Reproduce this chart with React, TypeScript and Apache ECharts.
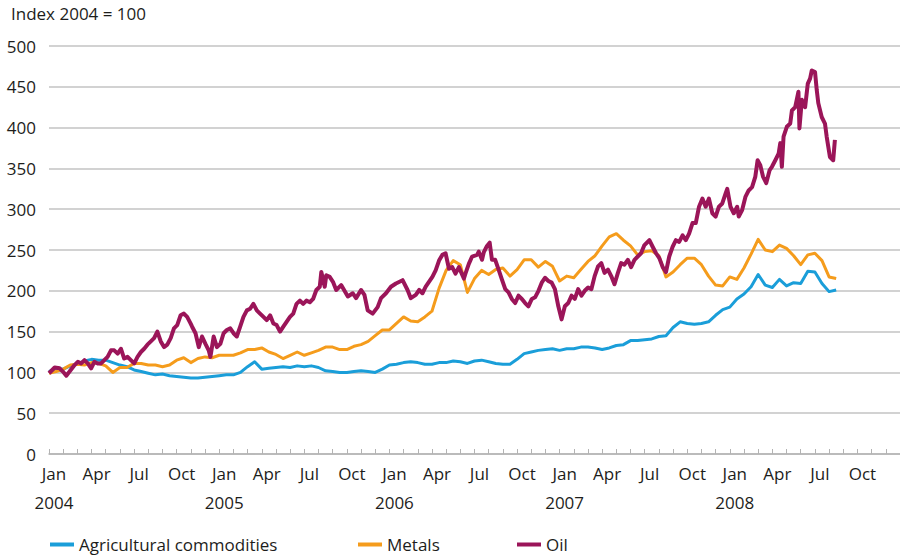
import React, { useEffect, useRef } from "react";
import * as echarts from "echarts";

const TITLE = "Index 2004 = 100";
const YEARS = ["2004", "2005", "2006", "2007", "2008"];
const MONTHS = ["Jan", "Feb", "Mar", "Apr", "May", "Jun", "Jul", "Aug", "Sep", "Oct", "Nov", "Dec"];
const Y_MIN = 0;
const Y_MAX = 500;
const Y_STEP = 50;
const X_MONTHS_SPAN = 60; // Jan 2004 .. end of 2008, in months

const SERIES_NAMES = ["Agricultural commodities", "Metals", "Oil"];

// Half-monthly readings starting 1 Jan 2004 (index 2004 = 100)
const agricultural = [
  101, 105, 104, 108, 110, 114, 116, 115, 115, 112, 109, 107, 103, 101, 99, 97, 98, 96, 95, 94,
  93, 93, 94, 95, 96, 97, 97, 100, 107, 113, 104, 105, 106, 107, 106, 108, 107, 108, 106, 102,
  101, 100, 100, 101, 102, 101, 100, 104, 109, 110, 112, 113, 112, 110, 110, 112, 112, 114, 113, 111,
  114, 115, 113, 111, 110, 110, 116, 123, 125, 127, 128, 129, 127, 129, 129, 131, 131, 130, 128, 130,
  133, 134, 139, 139, 140, 141, 144, 145, 155, 162, 160, 159, 160, 162, 170, 177, 180, 190, 196, 205,
  220, 207, 204, 214, 206, 210, 209, 224, 223, 209, 199, 201,
];

const metals = [
  99, 101, 104, 109, 110, 109, 112, 111, 108, 100, 106, 106, 111, 111, 109, 109, 107, 109, 115, 118,
  112, 117, 119, 118, 121, 121, 121, 124, 128, 128, 130, 125, 122, 117, 121, 125, 121, 124, 127, 131,
  131, 128, 128, 132, 134, 138, 145, 152, 152, 160, 168, 163, 162, 168, 175, 203, 225, 237, 232, 198,
  215, 225, 220, 226, 228, 218, 226, 238, 238, 229, 236, 230, 212, 218, 216, 226, 236, 243, 255, 266,
  270, 262, 255, 244, 248, 249, 243, 217, 223, 232, 240, 240, 232, 218, 207, 206, 217, 214, 228, 245,
  263, 250, 248, 256, 252, 243, 232, 244, 246, 237, 217, 215,
];

// Oil is read at a finer, irregular spacing (months since 1 Jan 2004)
const oilMonths = [
  0.0, 0.4, 0.75, 0.98, 1.22, 1.45, 1.8, 2.03, 2.27, 2.5, 2.73, 2.97, 3.2, 3.43, 3.67, 3.9, 4.13, 4.37, 4.6, 4.84,
  5.07, 5.3, 5.54, 5.77, 6.01, 6.24, 6.48, 6.71, 6.94, 7.18, 7.41, 7.64, 7.88, 8.11, 8.34, 8.58, 8.81, 9.04, 9.28, 9.51,
  9.74, 9.98,
  10.09, 10.33, 10.56, 10.79, 11.03, 11.26, 11.38, 11.61, 11.84, 12.08, 12.31, 12.54, 12.78, 13.01, 13.24, 13.48, 13.71, 13.95,
  14.18, 14.41, 14.65, 14.88, 15.12, 15.35, 15.59, 15.82, 16.05, 16.29, 16.52, 16.75, 16.99, 17.22, 17.45, 17.69, 17.92, 18.15,
  18.39, 18.62, 18.85, 19.09, 19.2, 19.44, 19.55, 19.79, 20.02, 20.25,
  20.6, 21.07, 21.42, 21.65, 22.0, 22.24, 22.47, 22.82, 23.17, 23.41, 23.76, 24.11, 24.46, 24.93, 25.28, 25.51, 25.86, 26.1,
  26.33, 26.56, 27.03, 27.26, 27.5, 27.73, 27.96, 28.2, 28.43, 28.66, 28.9, 29.25, 29.36, 29.6, 29.83, 30.18, 30.3, 30.53,
  30.65, 30.88, 31.07, 31.23, 31.46, 31.7, 31.93, 32.17, 32.4, 32.63, 32.87, 33.1, 33.34, 33.57, 33.8, 34.04, 34.27, 34.51,
  34.74, 34.97, 35.21, 35.44, 35.67, 35.91, 36.14, 36.37, 36.61, 36.84, 37.07, 37.31, 37.54, 37.77, 38.01, 38.24, 38.47, 38.71,
  38.94, 39.17, 39.41, 39.64, 39.87, 40.11, 40.34, 40.57,
  40.81, 41.04, 41.28, 41.51, 41.74, 41.98, 42.33, 42.56, 42.8, 43.03, 43.27, 43.5, 43.73, 43.97, 44.2, 44.43, 44.67, 44.9,
  45.13, 45.37, 45.6, 45.83, 46.07, 46.3, 46.53, 46.77, 47.0, 47.23, 47.47, 47.7, 47.82, 48.05, 48.28, 48.52, 48.63, 48.87,
  49.1, 49.33, 49.57, 49.8, 49.96, 50.15, 50.34, 50.57, 50.81,
  50.97, 51.21, 51.44, 51.56, 51.67, 51.79, 52.02, 52.26, 52.38, 52.61, 52.84, 52.91, 53.08, 53.31, 53.5, 53.66, 53.78, 54.01,
  54.13, 54.24, 54.48, 54.71, 54.83, 55.06, 55.29, 55.41,
];

const oilValues = [
  99, 106, 105, 101, 96, 101, 109, 113, 111, 115, 111, 105, 113, 111, 111, 115, 119, 127, 127, 123,
  129, 117, 119, 115, 111, 119, 125, 129, 134, 138, 142, 150, 138, 131, 134, 142, 154, 158, 170, 172,
  168, 160,
  156, 148, 131, 144, 135, 127, 119, 144, 131, 135, 148, 152, 154, 148, 144, 156, 168, 176,
  178, 184, 176, 172, 168, 164, 170, 160, 158, 150, 156, 162, 168, 172, 184, 188, 184, 188,
  186, 190, 201, 205, 223, 205, 219, 217, 211, 201,
  207, 193, 197, 191, 201, 195, 176, 172, 180, 191, 197, 205, 209, 213, 201, 191, 195, 201,
  197, 205, 217, 225, 237, 244, 246, 227, 229, 221, 229, 215, 221, 233, 242, 244, 248, 238,
  247, 255, 259, 238, 238, 226, 214, 202, 198, 190, 185, 194, 190, 185, 181, 190, 192, 200,
  210, 216, 212, 210, 202, 181, 165, 181, 185, 194, 190, 202, 194, 200, 204, 202, 218, 230,
  234, 222, 226, 218, 208, 222, 234, 232,
  238, 229, 238, 242, 246, 256, 262, 254, 246, 240, 229, 223, 242, 254, 262, 260, 268, 262,
  270, 283, 283, 303, 313, 303, 313, 295, 291, 303, 307, 319, 325, 303, 295, 303, 291, 299,
  315, 323, 327, 340, 360, 354, 340, 332, 348,
  352, 360, 368, 381, 352, 389, 401, 405, 421, 425, 444, 399, 434, 425, 454, 460, 470, 468,
  446, 430, 413, 405, 389, 364, 360, 385,
];

const COLORS = ["#1a9ed9", "#f59c1c", "#9b1559"];
const FONT = "'Open Sans', sans-serif";
const TEXT_COLOR = "#1d1d1b";

export default function App() {
  const ref = useRef<HTMLDivElement>(null);

  useEffect(() => {
    if (!ref.current) return;
    const chart = echarts.init(ref.current, null, { renderer: "svg" });

    const halfMonthly = (arr: number[]) => arr.map((v, i) => [i * 0.5, v]);
    const seriesData = [
      halfMonthly(agricultural),
      halfMonthly(metals),
      oilMonths.map((m, i) => [m, oilValues[i]]),
    ];
    const widths = [3, 3, 4];

    chart.setOption({
      animation: false,
      backgroundColor: "#ffffff",
      textStyle: { fontFamily: FONT },
      title: {
        text: TITLE,
        left: 6,
        top: 0,
        textStyle: { fontFamily: FONT, fontSize: 17, fontWeight: "normal", color: TEXT_COLOR },
      },
      grid: { left: 49, right: -5, top: 46, bottom: 101, containLabel: false },
      legend: SERIES_NAMES.map((name, i) => ({
        data: [name],
        left: [45, 353, 512][i],
        top: 531,
        icon: "rect",
        itemWidth: 24,
        itemHeight: 4,
        itemGap: 0,
        textStyle: { fontFamily: FONT, fontSize: 17, color: TEXT_COLOR },
      })),
      xAxis: {
        type: "value",
        min: 0,
        max: X_MONTHS_SPAN,
        interval: 1,
        axisLine: { show: true, onZero: false, lineStyle: { color: "#b3b3b3", width: 1.5 } },
        axisTick: { show: true, inside: true, length: 5, lineStyle: { color: "#b3b3b3", width: 1 } },
        axisLabel: {
          showMinLabel: true,
          showMaxLabel: false,
          formatter: (value: number) => {
            if (!Number.isInteger(value) || value % 3 !== 0 || value >= X_MONTHS_SPAN) return "";
            const m = MONTHS[value % 12];
            const y = YEARS[Math.floor(value / 12)];
            return value % 12 === 0 ? `${m}\n${y}` : m;
          },
          fontFamily: FONT,
          fontSize: 17,
          color: TEXT_COLOR,
          lineHeight: 29,
          margin: 5,
          padding: [0, 0, 0, 10],
        },
        splitLine: { show: false },
      },
      yAxis: {
        type: "value",
        min: Y_MIN,
        max: Y_MAX,
        interval: Y_STEP,
        axisLine: { show: false },
        axisTick: { show: false },
        axisLabel: { fontFamily: FONT, fontSize: 17, color: TEXT_COLOR, margin: 13 },
        splitLine: { lineStyle: { color: "#c3c3c3", width: 1.5 } },
      },
      series: SERIES_NAMES.map((name, i) => ({
        name,
        type: "line",
        data: seriesData[i],
        showSymbol: false,
        symbol: "none",
        color: COLORS[i],
        lineStyle: { color: COLORS[i], width: widths[i], join: "round" },
        z: 2 + i,
      })),
    });

    return () => chart.dispose();
  }, []);

  return (
    <div
      ref={ref}
      style={{ position: "fixed", left: 0, top: 0, width: 900, height: 555, background: "#fff" }}
    />
  );
}
